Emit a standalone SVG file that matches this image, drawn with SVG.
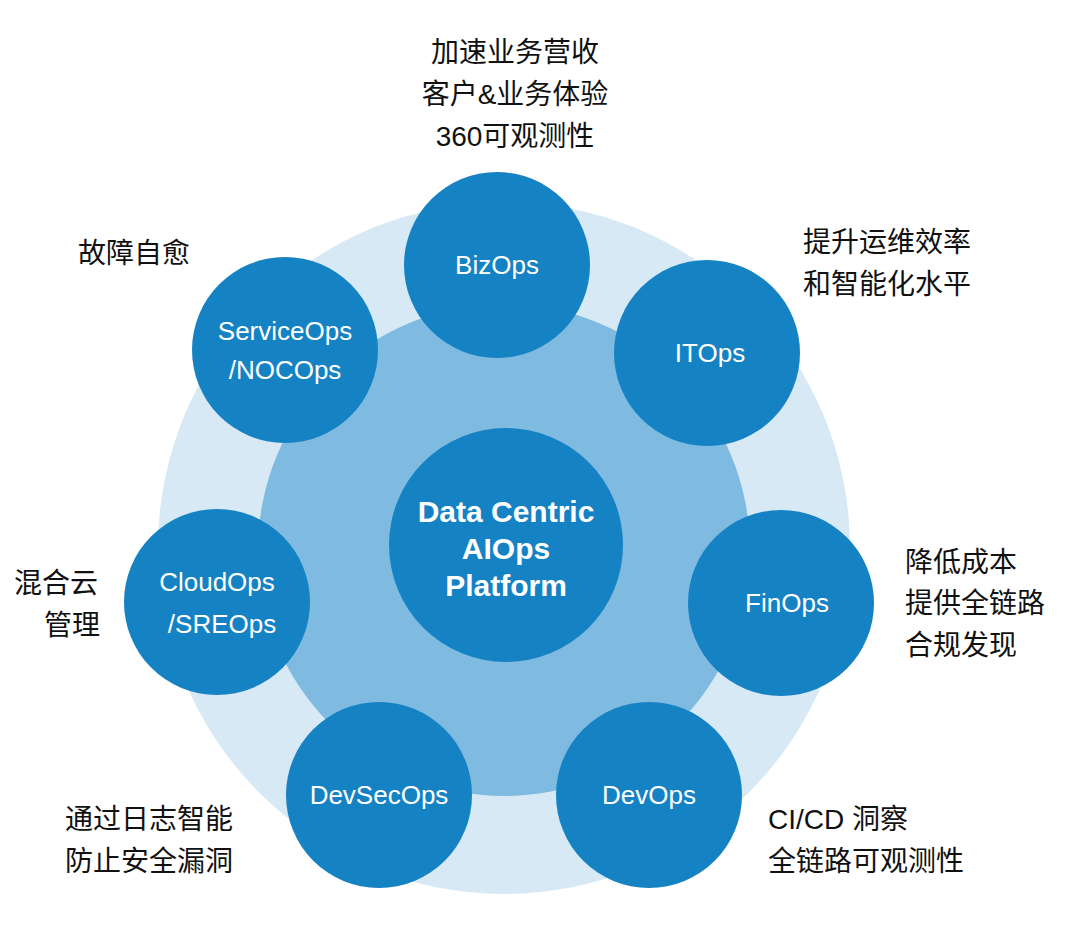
<svg xmlns="http://www.w3.org/2000/svg" width="1080" height="951" viewBox="0 0 1080 951">
<style>
.n{fill:#1582c4}
.t{fill:#fff;font-family:"Liberation Sans","Noto Sans CJK SC",sans-serif;font-size:26px;text-anchor:middle}
.c{fill:#fff;font-family:"Liberation Sans","Noto Sans CJK SC",sans-serif;font-size:30px;font-weight:bold;text-anchor:middle}
.l{fill:#111;font-family:"Liberation Sans","Noto Sans CJK SC",sans-serif;font-size:28px}
</style>
<rect width="1080" height="951" fill="#fff"/>
<circle cx="504" cy="548" r="346" fill="#d6e9f4"/>
<circle cx="504" cy="550" r="246" fill="#7fbbe0"/>
<g id="center"><circle cx="506" cy="545" r="117" class="n"/><text class="c" x="506" y="522">Data Centric</text><text class="c" x="506" y="559">AIOps</text><text class="c" x="506" y="596">Platform</text></g>
<g id="bizops"><circle cx="497" cy="265" r="93" class="n"/><text class="t" x="497" y="274">BizOps</text></g>
<g id="itops"><circle cx="707" cy="353" r="93" class="n"/><text class="t" x="710" y="362">ITOps</text></g>
<g id="finops"><circle cx="781" cy="603" r="93" class="n"/><text class="t" x="787" y="612">FinOps</text></g>
<g id="devops"><circle cx="649" cy="795" r="93" class="n"/><text class="t" x="649" y="804">DevOps</text></g>
<g id="devsecops"><circle cx="379" cy="795" r="93" class="n"/><text class="t" x="379" y="804">DevSecOps</text></g>
<g id="cloudops"><circle cx="217" cy="602" r="93" class="n"/><text class="t" x="217" y="591">CloudOps</text><text class="t" x="222" y="633">/SREOps</text></g>
<g id="serviceops"><circle cx="285" cy="350" r="93" class="n"/><text class="t" x="285" y="340">ServiceOps</text><text class="t" x="285" y="379">/NOCOps</text></g>
<g id="connectors"></g>
<g id="labels">
<text class="l" x="515" y="62" text-anchor="middle">加速业务营收</text>
<text class="l" x="515" y="104" text-anchor="middle">客户&amp;业务体验</text>
<text class="l" x="515" y="146" text-anchor="middle">360可观测性</text>
<text class="l" x="78" y="263">故障自愈</text>
<text class="l" x="803" y="252">提升运维效率</text>
<text class="l" x="803" y="294">和智能化水平</text>
<text class="l" x="905" y="572">降低成本</text>
<text class="l" x="905" y="613">提供全链路</text>
<text class="l" x="905" y="655">合规发现</text>
<text class="l" x="14" y="593">混合云</text>
<text class="l" x="44" y="635">管理</text>
<text class="l" x="65" y="829">通过日志智能</text>
<text class="l" x="65" y="871">防止安全漏洞</text>
<text class="l" x="768" y="829">CI/CD 洞察</text>
<text class="l" x="768" y="871">全链路可观测性</text>
</g>
</svg>
